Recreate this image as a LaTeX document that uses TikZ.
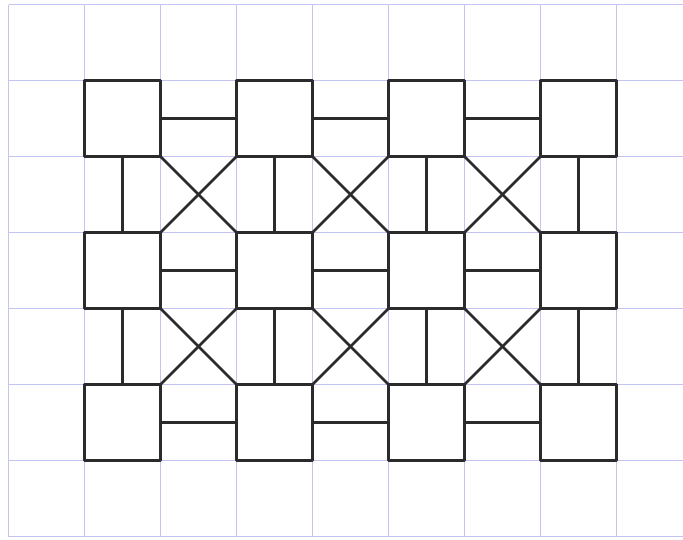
\documentclass[tikz,border=0pt]{standalone}
\definecolor{gridblue}{HTML}{C4C4F2}
\definecolor{ink}{HTML}{2B2B2B}
\tikzset{
  gridline/.style={draw=gridblue, line width=1pt},
  tile/.style={draw=ink, line width=3pt, minimum size=76pt, inner sep=0pt, outer sep=0pt, shape=rectangle, line join=round},
  link/.style={draw=ink, line width=2.5pt, line cap=round}
}
\begin{document}
\begin{tikzpicture}[x=1pt,y=-1pt]
\useasboundingbox (0,0) rectangle (683,539);
\fill[white] (0,0) rectangle (683,539);
% grid
\foreach \k in {0,...,8} {
  \draw[gridline] ({8.5+76*\k},4.5) -- ({8.5+76*\k},536.5);
}
\foreach \j in {0,...,7} {
  \draw[gridline] (8.5,{4.5+76*\j}) -- (683,{4.5+76*\j});
}
% tiles
\foreach \r/\y in {1/118.5,2/270.5,3/422.5} {
  \foreach \c/\x in {1/122.5,2/274.5,3/426.5,4/578.5} {
    \node[tile] (s\r\c) at (\x,\y) {};
  }
}
% horizontal links
\foreach \r in {1,2,3} {
  \draw[link] (s\r1.east) -- (s\r2.west);
  \draw[link] (s\r2.east) -- (s\r3.west);
  \draw[link] (s\r3.east) -- (s\r4.west);
}
% vertical links
\foreach \r/\n in {1/2,2/3} {
  \foreach \c in {1,2,3,4} {
    \draw[link] (s\r\c.south) -- (s\n\c.north);
  }
}
% crossings
\foreach \r/\n in {1/2,2/3} {
  \foreach \c/\d in {1/2,2/3,3/4} {
    \draw[link] (s\r\c.south east) -- (s\n\d.north west);
    \draw[link] (s\r\d.south west) -- (s\n\c.north east);
  }
}
\end{tikzpicture}
\end{document}
